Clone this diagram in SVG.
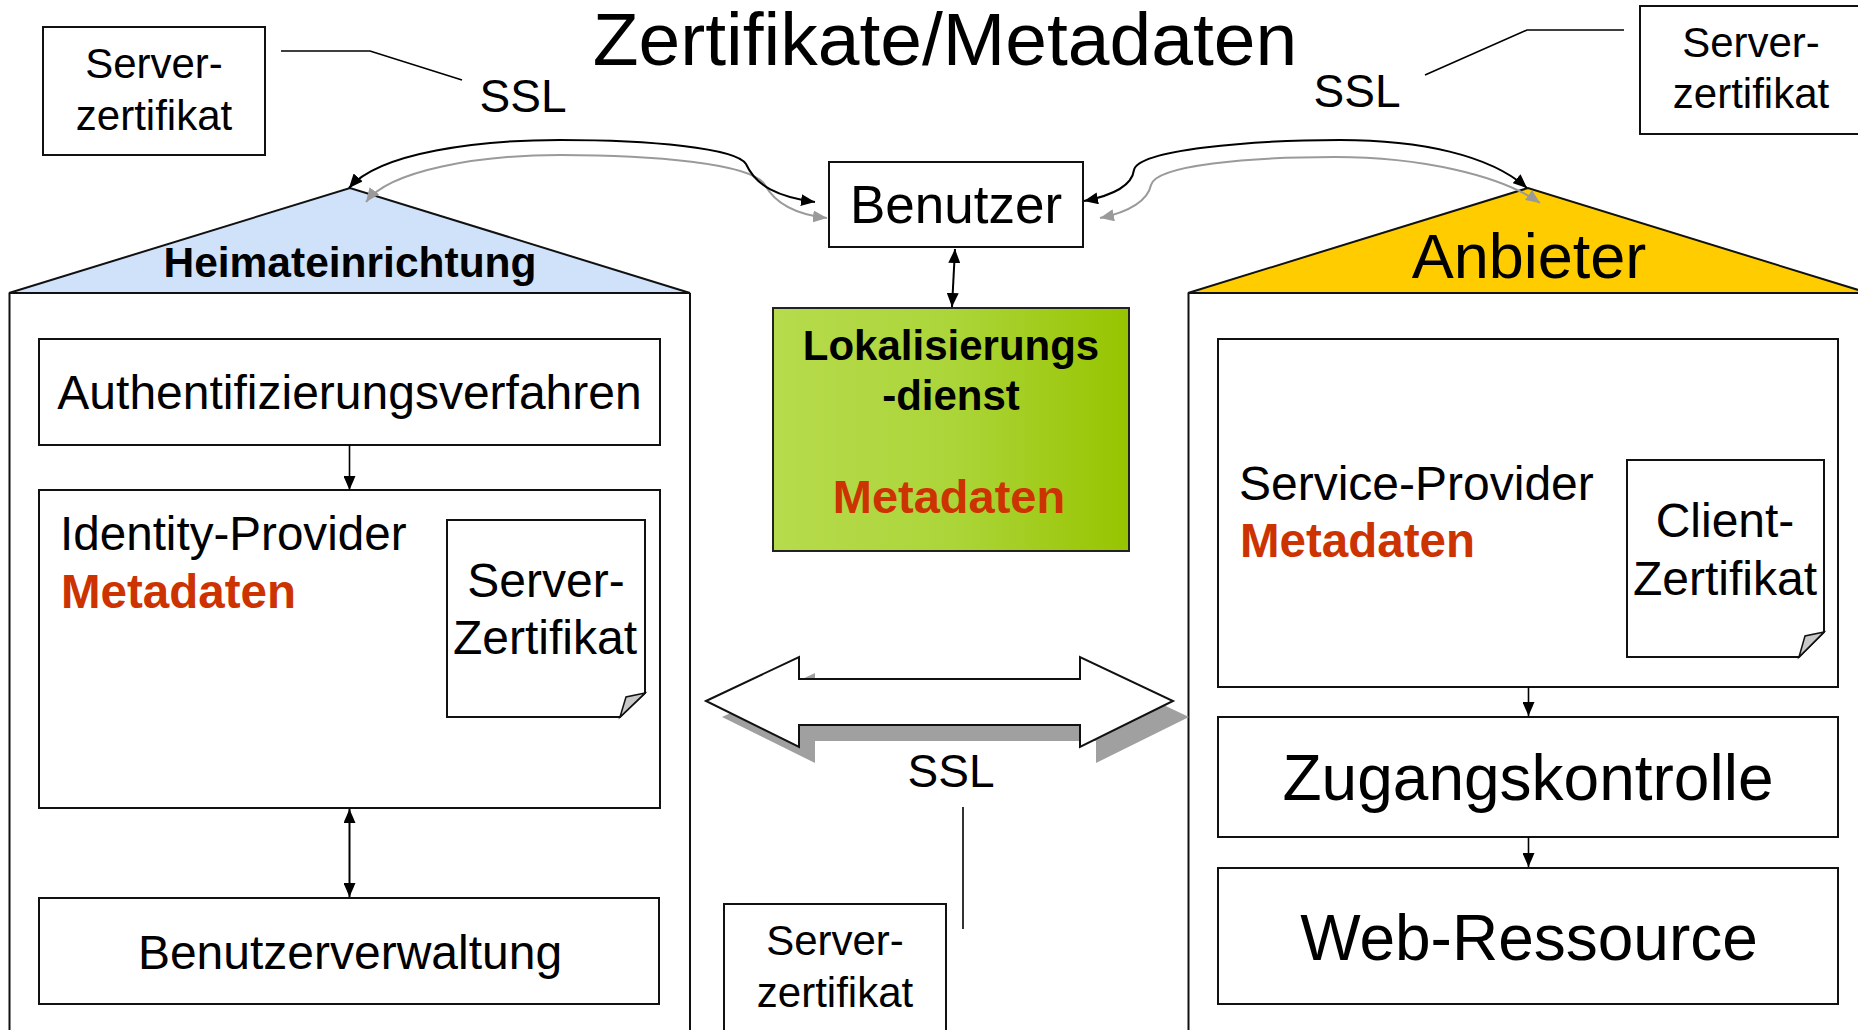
<svg xmlns="http://www.w3.org/2000/svg" width="1858" height="1030" viewBox="0 0 1858 1030">
<style>
  text { font-family: "Liberation Sans", Arial, sans-serif; fill: #000; }
  .box { fill: #fff; stroke: #111; stroke-width: 2; }
  .cont { fill: none; stroke: #111; stroke-width: 2; }
  .b { font-weight: bold; }
  .red { fill: #cc3300; font-weight: bold; }
  .m { text-anchor: middle; }
  .ln { fill: none; stroke: #000; stroke-width: 1.6; }
  .lnk { fill: none; stroke: #000; stroke-width: 2; }
  .lng { fill: none; stroke: #9a9a9a; stroke-width: 2; }
</style>
<defs>
  <marker id="ah" viewBox="0 0 14 12" refX="14" refY="6" markerWidth="14" markerHeight="12" markerUnits="userSpaceOnUse" orient="auto-start-reverse">
    <path d="M0,0 L14,6 L0,12 z" fill="#000"/>
  </marker>
  <marker id="ahg" viewBox="0 0 14 12" refX="14" refY="6" markerWidth="14" markerHeight="12" markerUnits="userSpaceOnUse" orient="auto-start-reverse">
    <path d="M0,0 L14,6 L0,12 z" fill="#9a9a9a"/>
  </marker>
  <linearGradient id="green" x1="0" y1="0" x2="1" y2="0">
    <stop offset="0" stop-color="#b6db4c"/>
    <stop offset="0.5" stop-color="#acd53a"/>
    <stop offset="1" stop-color="#97c400"/>
  </linearGradient>
</defs>

<rect width="1858" height="1030" fill="#fff"/>

<g id="title">
  <text x="945" y="65" class="m" font-size="75">Zertifikate/Metadaten</text>
</g>

<g id="heimateinrichtung">
  <polygon points="9,293 350,188 690,293" fill="#cfe2fa" stroke="#111" stroke-width="2"/>
  <polyline points="9.5,293 9.5,1040" class="cont"/>
  <polyline points="690,293 690,1040" class="cont"/>
  <line x1="9" y1="293" x2="690" y2="293" stroke="#111" stroke-width="2"/>
  <text x="350" y="277" class="m b" font-size="42.5">Heimateinrichtung</text>
</g>

<g id="anbieter">
  <polygon points="1188,293 1528,188 1868,293" fill="#ffcc00" stroke="#111" stroke-width="2"/>
  <polyline points="1188.5,293 1188.5,1040" class="cont"/>
  <line x1="1188" y1="293" x2="1868" y2="293" stroke="#111" stroke-width="2"/>
  <text x="1529" y="278" class="m" font-size="63">Anbieter</text>
</g>

<g id="server-zertifikat-left">
  <rect x="43" y="27" width="222" height="128" class="box"/>
  <text x="154" y="78" class="m" font-size="42">Server-</text>
  <text x="154" y="130" class="m" font-size="42">zertifikat</text>
</g>
<g id="ssl-left">
  <text x="523" y="112" class="m" font-size="46">SSL</text>
</g>

<g id="server-zertifikat-right">
  <rect x="1640" y="6" width="226" height="128" class="box"/>
  <text x="1751" y="57" class="m" font-size="42">Server-</text>
  <text x="1751" y="108" class="m" font-size="42">zertifikat</text>
</g>
<g id="ssl-right">
  <text x="1357" y="107" class="m" font-size="46">SSL</text>
</g>

<g id="benutzer">
  <rect x="829" y="162" width="254" height="85" class="box"/>
  <text x="956" y="223" class="m" font-size="53">Benutzer</text>
</g>

<g id="lokalisierungsdienst">
  <rect x="773" y="308" width="356" height="243" fill="url(#green)" stroke="#222" stroke-width="2"/>
  <text x="951" y="360" class="m b" font-size="42">Lokalisierungs</text>
  <text x="951" y="410" class="m b" font-size="42">-dienst</text>
  <text x="949" y="513" class="m red" font-size="47">Metadaten</text>
</g>

<g id="authentifizierungsverfahren">
  <rect x="39" y="339" width="621" height="106" class="box"/>
  <text x="349.5" y="409" class="m" font-size="48">Authentifizierungsverfahren</text>
</g>

<g id="identity-provider">
  <rect x="39" y="490" width="621" height="318" class="box"/>
  <text x="60" y="550" font-size="47.6">Identity-Provider</text>
  <text x="61" y="608" class="red" font-size="47.5">Metadaten</text>
</g>
<g id="server-zertifikat-idp">
  <path d="M447,520 H645 V693 L620,717 H447 Z" class="box"/>
  <polygon points="620,717 645,693 626,697" fill="#c8c8c8" stroke="#111" stroke-width="1.5"/>
  <text x="546" y="597" class="m" font-size="48">Server-</text>
  <text x="545" y="654" class="m" font-size="48">Zertifikat</text>
</g>

<g id="benutzerverwaltung">
  <rect x="39" y="898" width="620" height="106" class="box"/>
  <text x="350" y="969" class="m" font-size="48">Benutzerverwaltung</text>
</g>

<g id="service-provider">
  <rect x="1218" y="339" width="620" height="348" class="box"/>
  <text x="1239" y="500" font-size="48">Service-Provider</text>
  <text x="1240" y="557" class="red" font-size="47.5">Metadaten</text>
</g>
<g id="client-zertifikat">
  <path d="M1627,460 H1824 V632 L1799,657 H1627 Z" class="box"/>
  <polygon points="1799,657 1824,632 1805,636" fill="#c8c8c8" stroke="#111" stroke-width="1.5"/>
  <text x="1725" y="537" class="m" font-size="48">Client-</text>
  <text x="1725" y="595" class="m" font-size="48">Zertifikat</text>
</g>

<g id="zugangskontrolle">
  <rect x="1218" y="717" width="620" height="120" class="box"/>
  <text x="1528" y="800" class="m" font-size="64">Zugangskontrolle</text>
</g>

<g id="web-ressource">
  <rect x="1218" y="868" width="620" height="136" class="box"/>
  <text x="1529" y="960" class="m" font-size="64">Web-Ressource</text>
</g>

<g id="ssl-doppelpfeil">
  <polygon points="722,717 815,673 815,695 1096,695 1096,673 1189,717 1096,763 1096,741 815,741 815,763" fill="#a0a0a0"/>
  <polygon points="706,701 799,657 799,679 1080,679 1080,657 1173,701 1080,747 1080,725 799,725 799,747" fill="#fff" stroke="#111" stroke-width="2"/>
  <text x="951" y="787" class="m" font-size="46">SSL</text>
</g>

<g id="server-zertifikat-bottom">
  <rect x="724" y="904" width="222" height="140" class="box"/>
  <text x="835" y="955" class="m" font-size="42">Server-</text>
  <text x="835" y="1007" class="m" font-size="42">zertifikat</text>
</g>

<g id="connectors">
  <polyline points="281,51 370,51 462,80" class="ln"/>
  <polyline points="1425,75 1527,30 1624,30" class="ln"/>
  <line x1="963" y1="807" x2="963" y2="929" class="ln"/>
  <path d="M366,202 C390,170 480,155 560,155 C650,155 752,163 765,185 C776,205 800,215 827,218" class="lng" marker-start="url(#ahg)" marker-end="url(#ahg)"/>
  <path d="M349,188 C380,152 480,140 560,140 C650,140 736,148 746,164 C756,186 778,197 815,202" class="lnk" marker-start="url(#ah)" marker-end="url(#ah)"/>
  <path d="M1100,218 C1130,212 1148,200 1151,185 C1156,165 1250,157 1335,157 C1420,157 1500,175 1540,203" class="lng" marker-start="url(#ahg)" marker-end="url(#ahg)"/>
  <path d="M1084,201 C1115,195 1132,185 1134,170 C1138,150 1250,140 1340,140 C1420,140 1490,155 1527,188" class="lnk" marker-start="url(#ah)" marker-end="url(#ah)"/>
  <line x1="955" y1="249" x2="952" y2="307" class="lnk" marker-start="url(#ah)" marker-end="url(#ah)"/>
  <line x1="349.5" y1="445" x2="349.5" y2="490" class="ln" marker-end="url(#ah)"/>
  <line x1="349.5" y1="809" x2="349.5" y2="897" class="lnk" marker-start="url(#ah)" marker-end="url(#ah)"/>
  <line x1="1528.5" y1="687" x2="1528.5" y2="716" class="ln" marker-end="url(#ah)"/>
  <line x1="1528.5" y1="837" x2="1528.5" y2="867" class="ln" marker-end="url(#ah)"/>
</g>
</svg>
